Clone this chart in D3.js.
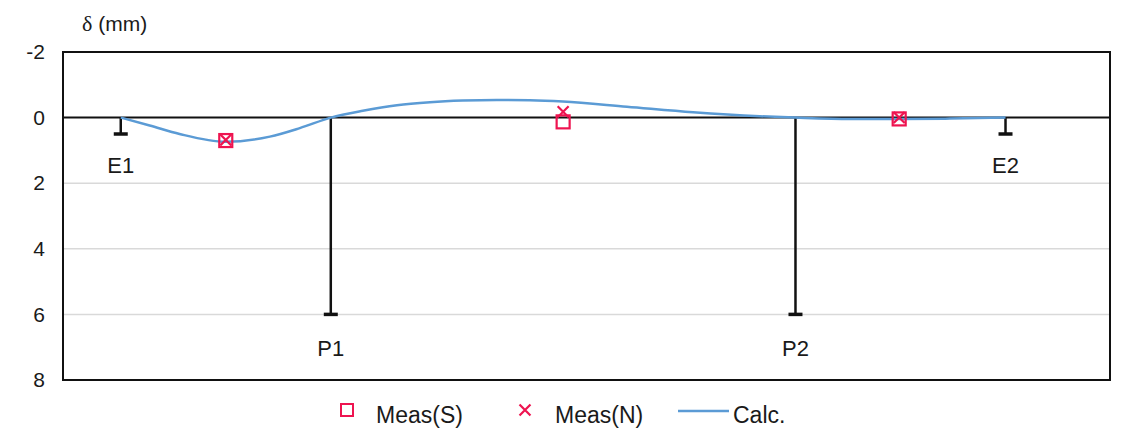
<!DOCTYPE html>
<html>
<head>
<meta charset="utf-8">
<script src="https://cdn.jsdelivr.net/npm/d3@7"></script>
<style>
  html, body { margin: 0; padding: 0; background: #fff; }
  svg { display: block; font-family: "Liberation Sans", Arial, sans-serif; }
</style>
</head>
<body>
<svg id="chart" width="1125" height="434"></svg>
<script>
// Support positions along the girder (m) and their names
const supportNames = ["E1", "P1", "P2", "E2"];
const supportX = [0, 40, 128.5, 168.5];
const supportDepth = [0.5, 6, 6, 0.5];

// Measurement stations (mid-spans) and measured deflections (mm)
const measX = [20, 84.25, 148.25];
const measS = [0.7, 0.13, 0.04];
const measN = [0.68, -0.18, 0.0];

// Calculated deflection line
const calcX = [0, 5.5, 11.2, 20, 28.4, 34.1, 40, 46.1, 52.6, 58.9, 65.1, 71.6, 77.9, 84.2, 96.4, 109, 121.7, 128.5, 138.9, 148.4, 157.9, 168.5];
const calcY = [0, 0.24, 0.5, 0.74, 0.58, 0.32, 0, -0.21, -0.38, -0.47, -0.52, -0.54, -0.53, -0.49, -0.33, -0.16, -0.04, 0, 0.04, 0.04, 0.03, 0];

const yTicks = [-2, 0, 2, 4, 6, 8];

const svg = d3.select("#chart");
const plotL = 63, plotR = 1110, plotT = 52, plotB = 380;

const x = d3.scaleLinear().domain([-11, 188.4]).range([plotL, plotR]);
const y = d3.scaleLinear().domain([-2, 8]).range([plotT, plotB]);

const red = "#ee1450";
const blue = "#5b9bd5";
const ink = "#1a1a1a";

// Horizontal gridlines
svg.append("g")
  .selectAll("line")
  .data(yTicks.filter(t => t > 0 && t < 8))
  .join("line")
  .attr("x1", plotL).attr("x2", plotR)
  .attr("y1", d => y(d)).attr("y2", d => y(d))
  .attr("stroke", "#d9d9d9").attr("stroke-width", 1.5);

// Y axis labels
const yAxis = d3.axisLeft(y).tickValues(yTicks).tickSize(0).tickPadding(18)
  .tickFormat(d => String(d));
svg.append("g")
  .attr("transform", `translate(${plotL},0)`)
  .call(yAxis)
  .call(g => g.select(".domain").remove())
  .call(g => g.selectAll("text")
    .attr("font-size", 21)
    .attr("fill", ink)
    .attr("font-family", "Liberation Sans, Arial, sans-serif"));

// Zero line
svg.append("line")
  .attr("x1", plotL).attr("x2", plotR)
  .attr("y1", y(0)).attr("y2", y(0))
  .attr("stroke", "#111").attr("stroke-width", 2);

// Plot frame
svg.append("rect")
  .attr("x", plotL).attr("y", plotT)
  .attr("width", plotR - plotL).attr("height", plotB - plotT)
  .attr("fill", "none").attr("stroke", "#111").attr("stroke-width", 2);

// Supports: vertical post with a foot cap
const sup = svg.append("g");
supportX.forEach((sx, i) => {
  sup.append("line")
    .attr("x1", x(sx)).attr("x2", x(sx))
    .attr("y1", y(0)).attr("y2", y(supportDepth[i]))
    .attr("stroke", "#111").attr("stroke-width", 2.5);
  sup.append("line")
    .attr("x1", x(sx) - 7).attr("x2", x(sx) + 7)
    .attr("y1", y(supportDepth[i])).attr("y2", y(supportDepth[i]))
    .attr("stroke", "#111").attr("stroke-width", 3.5);
  sup.append("text")
    .attr("x", x(sx))
    .attr("y", y(supportDepth[i]) + (supportDepth[i] > 1 ? 42 : 39))
    .attr("text-anchor", "middle")
    .attr("font-size", 22)
    .attr("fill", ink)
    .text(supportNames[i]);
});

// Calculated line
const line = d3.line()
  .x((d, i) => x(calcX[i]))
  .y(d => y(d))
  .curve(d3.curveMonotoneX);
svg.append("path")
  .datum(calcY)
  .attr("d", line)
  .attr("fill", "none")
  .attr("stroke", blue)
  .attr("stroke-width", 2.5);

// Measured (S): open squares
svg.append("g")
  .selectAll("rect")
  .data(measS)
  .join("rect")
  .attr("x", (d, i) => x(measX[i]) - 6.5)
  .attr("y", d => y(d) - 6.5)
  .attr("width", 13).attr("height", 13)
  .attr("fill", "none")
  .attr("stroke", red).attr("stroke-width", 2.2);

// Measured (N): crosses
const cross = d3.symbol().type(d3.symbolX).size(80);
svg.append("g")
  .selectAll("path")
  .data(measN)
  .join("path")
  .attr("transform", (d, i) => `translate(${x(measX[i])},${y(d)})`)
  .attr("d", cross)
  .attr("fill", "none")
  .attr("stroke", red).attr("stroke-width", 2.2);

// Axis title
const title = svg.append("text")
  .attr("x", 82).attr("y", 31)
  .attr("font-size", 21)
  .attr("fill", ink);
title.append("tspan").attr("font-family", "Liberation Serif, serif").attr("font-size", 22).text("δ");
title.append("tspan").text(" (mm)");

// Legend
const lg = svg.append("g").attr("font-size", 23).attr("fill", ink);
lg.append("rect")
  .attr("x", 341).attr("y", 404).attr("width", 12).attr("height", 12)
  .attr("fill", "none").attr("stroke", red).attr("stroke-width", 2);
lg.append("text").attr("x", 376).attr("y", 423).text("Meas(S)");
lg.append("path")
  .attr("transform", "translate(525,410)")
  .attr("d", cross)
  .attr("fill", "none").attr("stroke", red).attr("stroke-width", 2.2);
lg.append("text").attr("x", 555).attr("y", 423).text("Meas(N)");
lg.append("line")
  .attr("x1", 678).attr("x2", 729).attr("y1", 411).attr("y2", 411)
  .attr("stroke", blue).attr("stroke-width", 2.5);
lg.append("text").attr("x", 733).attr("y", 423).text("Calc.");
</script>
</body>
</html>
